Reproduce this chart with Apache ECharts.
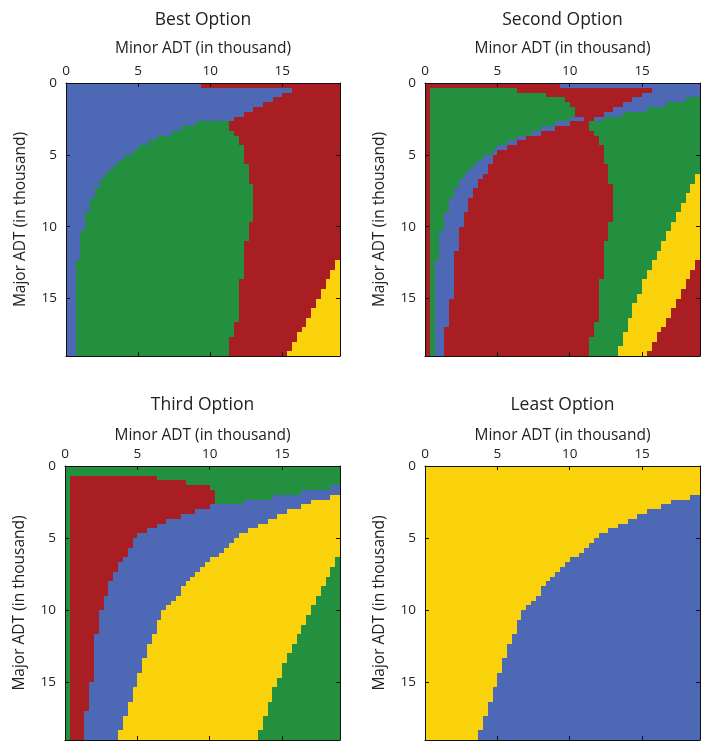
<!DOCTYPE html>
<html>
<head>
<meta charset="utf-8">
<script src="https://cdn.jsdelivr.net/npm/echarts/dist/echarts.min.js"></script>
<style>
  html, body { margin: 0; padding: 0; background: #fff; }
  #chart { width: 703px; height: 741px; }
</style>
</head>
<body>
<div id="chart"></div>
<script>
// grid is 19 thousand wide, sampled in cells of 1/3 thousand -> 57 cells a side
const CELLS = 57;
const PER_UNIT = 3;
const AXIS_MAX = 19;

const run = (v, n) => new Array(n).fill(v);

// boundaries are the cell column where a colour stops, one entry per row (row 0 = Major ADT 0)
const topBest = [28, 47, 45, 43, 41, 39, 37, 35];
// rows 8..56
const edgeBlueGreen = [27, 24, 22, 19, 17, 15, 14, 12, 11, 10, 9, 8, 7, 7, 6, 6, 5, 5, 5, 4,
  4, 4, 4, 3, 3, 3, 3, 3, 3, 2, 2, 2, 2, 2, 2, 2, 2, 2, 2, 2, 2, 2, 2, 2, 2, 2, 2, 2, 2];
const edgeBandRed = [30, 27, 24, 21, 19, 17, 15, 14, 14, 13, 13, 12, 11, 11, 10, 10, 9, 9, 9, 8,
  8, 8, 7, 7, 7, 7, 7, 6, 6, 6, 6, 6, 6, 6, 6, 6, 6, 5, 5, 5, 5, 5, 5, 4, 4, 4, 4, 4, 4];
const edgeGreenRed = [34, 34, 35, 36, 36, 37, 37, 37, 37, 38, 38, 38, 38, 39, 39, 39, 39, 39, 39, 39, 39,
  38, 38, 38, 38, 37, 37, 37, 37, 37, 37, 37, 37, 36, 36, 36, 36, 36, 36, 36, 36, 36, 35, 35, 35, 34, 34, 34, 34];
// rows 0..56
const edgeYellowLeft = run(57, 19).concat([56, 56, 55, 55, 54, 54, 53, 53, 52, 52, 51, 51, 50, 50, 49, 49,
  48, 48, 47, 47, 46, 46, 45, 45, 45, 44, 44, 43, 43, 43, 42, 42, 42, 41, 41, 41, 40, 40]);
const edgeYellowRight = run(57, 37).concat([56, 56, 55, 55, 54, 54, 53, 53, 52, 52, 51, 51, 50, 50, 49, 48, 48, 47, 47, 46]);
const edgeLeast = run(57, 6).concat([55, 51, 49, 46, 44, 42, 40, 38, 36, 35, 34, 33, 32, 30, 29, 28, 27, 26, 25, 24,
  24, 23, 22, 21, 20, 20, 19, 19, 19, 18, 18, 17, 17, 17, 16, 16, 16, 15, 15, 15, 14, 14, 14, 13, 13, 13, 12, 12, 12, 11, 11]);
const full = run(CELLS, CELLS);

const titles = ['Best Option', 'Second Option', 'Third Option', 'Least Option'];
const xName = 'Minor ADT (in thousand)';
const yName = 'Major ADT (in thousand)';
const xTicks = [0, 5, 10, 15];
const yTicks = [0, 5, 10, 15];

const colors = { blue: '#4d68b4', red: '#a91e22', green: '#22903f', yellow: '#f9d20b' };
const colorNames = ['blue', 'red', 'green', 'yellow'];

const plots = [
  [
    ['blue', topBest.concat(edgeBlueGreen)],
    ['green', topBest.concat(edgeGreenRed)],
    ['red', edgeYellowRight],
    ['yellow', full]
  ],
  [
    ['red', [28].concat(run(1, 56))],
    ['green', [28, 19, 25, 29, 30, 31, 31, 30].concat(edgeBlueGreen)],
    ['blue', [28, 19, 25, 29, 30, 31, 31, 33].concat(edgeBandRed)],
    ['red', topBest.concat(edgeGreenRed)],
    ['blue', [57, 57, 57, 54, 50, 46, 41, 37].concat(edgeGreenRed)],
    ['green', edgeYellowLeft],
    ['yellow', edgeYellowRight],
    ['red', full]
  ],
  [
    ['green', [57, 57].concat(run(1, 55))],
    ['red', [57, 57, 19, 25, 30, 31, 31, 31].concat(edgeBandRed)],
    ['green', [57, 57, 57, 57, 55, 49, 43, 37].concat(edgeBandRed)],
    ['blue', edgeLeast],
    ['yellow', edgeYellowLeft],
    ['green', full]
  ],
  [
    ['yellow', edgeLeast],
    ['blue', full]
  ]
];

const grids = [
  { left: 66, top: 83, width: 274, height: 273 },
  { left: 425, top: 83, width: 275, height: 273 },
  { left: 65, top: 466, width: 275, height: 274 },
  { left: 425, top: 466, width: 275, height: 274 }
];
const titleY = [20, 20, 405, 405];
const nameY = [49, 49, 436, 436];

// one item per run of equal colour in a row: [x start, x end, y start, y end, colour]
function buildCells(bands) {
  const out = [];
  for (let r = 0; r < CELLS; r++) {
    let start = 0;
    bands.forEach(([c, ends]) => {
      const e = ends[r];
      if (e > start) {
        out.push([start / PER_UNIT, e / PER_UNIT, r / PER_UNIT, (r + 1) / PER_UNIT, colorNames.indexOf(c)]);
      }
      start = Math.max(start, e);
    });
  }
  return out;
}

// edges snapped to whole pixels so neighbouring runs meet without a seam
function renderCell(params, api) {
  const a = api.coord([api.value(0), api.value(2)]);
  const b = api.coord([api.value(1), api.value(3)]);
  const x0 = Math.round(Math.min(a[0], b[0])), x1 = Math.round(Math.max(a[0], b[0]));
  const y0 = Math.round(Math.min(a[1], b[1])), y1 = Math.round(Math.max(a[1], b[1]));
  return {
    type: 'rect',
    shape: { x: x0, y: y0, width: x1 - x0, height: y1 - y0 },
    style: { fill: colors[colorNames[api.value(4)]] }
  };
}

const font = '"Open Sans", "DejaVu Sans", sans-serif';
const textColor = '#222';
const lineStyle = { color: '#111', width: 1 };

const xAxis = [], yAxis = [], series = [], graphic = [];
grids.forEach((g, i) => {
  const base = {
    type: 'value', gridIndex: i, min: 0, max: AXIS_MAX, interval: 5, z: 10,
    splitLine: { show: false },
    axisLine: { show: true, onZero: false, lineStyle },
    axisTick: { show: true, inside: true, length: 4, lineStyle }
  };
  const label = { fontSize: 13.5, color: textColor, fontFamily: font, showMaxLabel: false };
  xAxis.push(Object.assign({}, base, { position: 'top',
    axisLabel: Object.assign({ margin: 5, formatter: v => (xTicks.indexOf(v) >= 0 ? String(v) : '') }, label) }));
  xAxis.push(Object.assign({}, base, { position: 'bottom', axisLabel: { show: false } }));
  yAxis.push(Object.assign({}, base, { inverse: true, position: 'left',
    name: yName, nameLocation: 'middle', nameRotate: 90, nameGap: 37,
    nameTextStyle: { fontSize: 15.5, color: textColor, fontFamily: font },
    axisLabel: Object.assign({ margin: 9, formatter: v => (yTicks.indexOf(v) >= 0 ? String(v) : '') }, label) }));
  yAxis.push(Object.assign({}, base, { inverse: true, position: 'right', axisLabel: { show: false } }));

  series.push({
    type: 'custom',
    xAxisIndex: 2 * i,
    yAxisIndex: 2 * i,
    renderItem: renderCell,
    encode: { x: [0, 1], y: [2, 3] },
    data: buildCells(plots[i]),
    z: 2
  });

  const cx = g.left + g.width / 2;
  graphic.push({
    type: 'text', id: 'title' + i, x: cx, y: titleY[i], z: 20,
    style: { text: titles[i], fill: textColor, font: '17.5px ' + font,
      align: 'center', verticalAlign: 'middle', textAlign: 'center', textVerticalAlign: 'middle' }
  });
  graphic.push({
    type: 'text', id: 'xname' + i, x: cx, y: nameY[i], z: 20,
    style: { text: xName, fill: textColor, font: '15.5px ' + font,
      align: 'center', verticalAlign: 'middle', textAlign: 'center', textVerticalAlign: 'middle' }
  });
});

const chart = echarts.init(document.getElementById('chart'));
chart.setOption({
  animation: false,
  backgroundColor: '#fff',
  textStyle: { fontFamily: font },
  grid: grids,
  xAxis,
  yAxis,
  series,
  graphic
});
</script>
</body>
</html>
